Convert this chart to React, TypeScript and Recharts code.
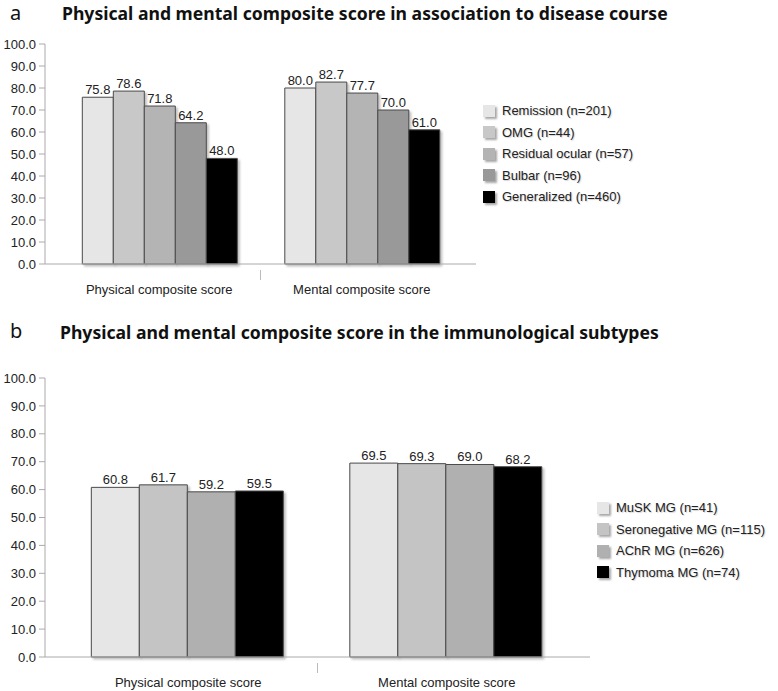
import React from 'react';
import { BarChart, Bar, XAxis, YAxis, LabelList } from 'recharts';

const categories = ['Physical composite score', 'Mental composite score'];

const seriesA = [
  { key: 'remission', name: 'Remission (n=201)', color: '#e6e6e6' },
  { key: 'omg', name: 'OMG (n=44)', color: '#c8c8c8' },
  { key: 'residual', name: 'Residual ocular (n=57)', color: '#b4b4b4' },
  { key: 'bulbar', name: 'Bulbar (n=96)', color: '#999999' },
  { key: 'generalized', name: 'Generalized (n=460)', color: '#000000' },
];
const remission = [75.8, 80.0];
const omg = [78.6, 82.7];
const residual = [71.8, 77.7];
const bulbar = [64.2, 70.0];
const generalized = [48.0, 61.0];

const seriesB = [
  { key: 'musk', name: 'MuSK MG (n=41)', color: '#e6e6e6' },
  { key: 'seroneg', name: 'Seronegative MG (n=115)', color: '#c4c4c4' },
  { key: 'achr', name: 'AChR MG (n=626)', color: '#b0b0b0' },
  { key: 'thymoma', name: 'Thymoma MG (n=74)', color: '#000000' },
];
const musk = [60.8, 69.5];
const seroneg = [61.7, 69.3];
const achr = [59.2, 69.0];
const thymoma = [59.5, 68.2];

const yTicks = [0, 10, 20, 30, 40, 50, 60, 70, 80, 90, 100];

const dataA = categories.map((c, i) => ({
  cat: c,
  remission: remission[i],
  omg: omg[i],
  residual: residual[i],
  bulbar: bulbar[i],
  generalized: generalized[i],
}));
const dataB = categories.map((c, i) => ({
  cat: c,
  musk: musk[i],
  seroneg: seroneg[i],
  achr: achr[i],
  thymoma: thymoma[i],
}));

const FONT = '"Liberation Sans", Arial, sans-serif';
const textShadow = '1px 1px 1px rgba(0,0,0,0.18)';

const CatTick = (props: any) => {
  const { x, y, payload, index } = props;
  const off = payload && payload.offset ? payload.offset : 0;
  return (
    <g>
      {index === 0 && off > 0 ? (
        <line x1={x + off} x2={x + off} y1={y - 2} y2={y + 8} stroke="#bbbbbb" />
      ) : null}
      <text x={x} y={y + 22} textAnchor="middle" fontSize={13} fill="#222" fontFamily={FONT}>
        {payload.value}
      </text>
    </g>
  );
};

const ShadowDefs = () => (
  <defs>
    <filter id="shd" x="-10%" y="-10%" width="130%" height="130%">
      <feDropShadow dx="2" dy="2" stdDeviation="1.2" floodColor="#000" floodOpacity="0.25" />
    </filter>
  </defs>
);

function Legend({ items, left, top }: { items: { name: string; color: string }[]; left: number; top: number }) {
  return (
    <div style={{ position: 'absolute', left, top, fontFamily: FONT, fontSize: 13, color: '#222' }}>
      {items.map((it) => (
        <div key={it.name} style={{ display: 'flex', alignItems: 'center', height: 21.5 }}>
          <span
            style={{
              display: 'inline-block',
              width: 12,
              height: 12,
              background: it.color,
              boxShadow: '2px 2px 2px rgba(0,0,0,0.35)',
              marginRight: 7,
            }}
          />
          <span style={{ textShadow }}>{it.name}</span>
        </div>
      ))}
    </div>
  );
}

function Panel({
  data,
  series,
  width,
  height,
  margin,
  gap,
  pad,
}: {
  data: any[];
  series: { key: string; name: string; color: string }[];
  width: number;
  height: number;
  margin: any;
  gap: string;
  pad: number;
}) {
  return (
    <BarChart width={width} height={height} data={data} margin={margin} barCategoryGap={gap} barGap={0}>
      <ShadowDefs />
      <XAxis
        dataKey="cat"
        axisLine={{ stroke: '#aaaaaa' }}
        tickLine={false}
        tick={<CatTick />}
        height={30}
        interval={0}
        padding={{ left: pad, right: pad }}
      />
      <YAxis
        domain={[0, 100]}
        ticks={yTicks}
        tickFormatter={(v: number) => v.toFixed(1)}
        axisLine={{ stroke: '#aaaaaa' }}
        tickLine={{ stroke: '#aaaaaa' }}
        tickSize={6}
        tickMargin={3}
        width={45}
        interval={0}
        tick={{ fontSize: 13, fill: '#222', fontFamily: FONT }}
      />
      {series.map((s) => (
        <Bar
          key={s.key}
          dataKey={s.key}
          name={s.name}
          fill={s.color}
          stroke="#4a4a4a"
          strokeWidth={1}
          isAnimationActive={false}
          style={{ filter: 'url(#shd)' }}
        >
          <LabelList
            dataKey={s.key}
            position="top"
            offset={3}
            formatter={(v: any) => Number(v).toFixed(1)}
            style={{ fontSize: 13, fill: '#222', fontFamily: FONT }}
          />
        </Bar>
      ))}
    </BarChart>
  );
}

export default function App() {
  const titleStyle: React.CSSProperties = {
    position: 'absolute',
    fontFamily: '"Noto Sans", "Open Sans", sans-serif',
    fontWeight: 700,
    fontSize: 17.6,
    lineHeight: '24px',
    color: '#111',
    whiteSpace: 'nowrap',
  };
  const letterStyle: React.CSSProperties = {
    position: 'absolute',
    fontFamily: '"Noto Sans", sans-serif',
    fontSize: 20,
    lineHeight: '26px',
    color: '#111',
  };
  return (
    <div style={{ position: 'absolute', left: 0, top: 0, width: 778, height: 691, background: '#fff', overflow: 'hidden' }}>
      <div style={{ ...letterStyle, left: 10, top: 0 }}>a</div>
      <div style={{ ...titleStyle, left: 62, top: 1 }}>Physical and mental composite score in association to disease course</div>
      <div style={{ position: 'absolute', left: 0, top: 0 }}>
        <Panel
          data={dataA}
          series={seriesA}
          width={778}
          height={300}
          margin={{ top: 44, right: 302, bottom: 6, left: 0 }}
          gap="12%"
          pad={13}
        />
      </div>
      <Legend items={seriesA} left={483} top={100} />

      <div style={{ ...letterStyle, left: 10, top: 318 }}>b</div>
      <div style={{ ...titleStyle, left: 60, top: 320 }}>Physical and mental composite score in the immunological subtypes</div>
      <div style={{ position: 'absolute', left: 0, top: 330 }}>
        <Panel
          data={dataB}
          series={seriesB}
          width={778}
          height={361}
          margin={{ top: 48, right: 188, bottom: 4, left: 0 }}
          gap="12.5%"
          pad={14}
        />
      </div>
      <Legend items={seriesB} left={597} top={497} />
    </div>
  );
}
